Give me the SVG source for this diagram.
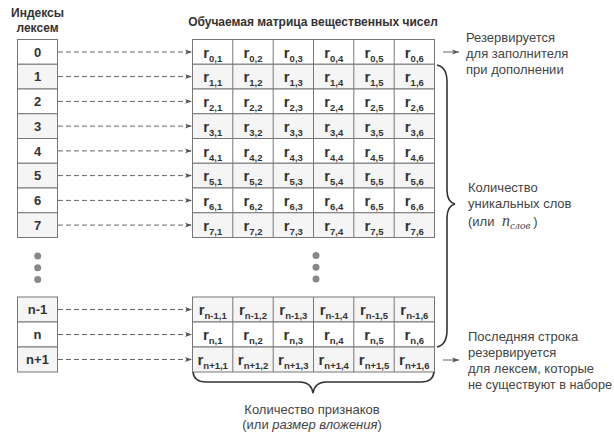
<svg xmlns="http://www.w3.org/2000/svg" width="614" height="436" viewBox="0 0 614 436">
<style>
.cell{fill:#fff;stroke:#777;stroke-width:1}
.cell.sh{fill:#f5f5f5}
.idx{font-family:"Liberation Sans",Arial,sans-serif;font-weight:bold;font-size:13px;fill:#333;text-anchor:middle}
.r{font-family:"Liberation Sans",Arial,sans-serif;font-weight:bold;font-size:15px;fill:#333;text-anchor:middle}
.sub{font-size:9.5px}
.hdr{font-family:"Liberation Sans",Arial,sans-serif;font-weight:bold;font-size:12px;fill:#333}
.note{font-family:"Liberation Sans",Arial,sans-serif;font-size:13px;fill:#444}
.dash{stroke:#666;stroke-width:1;stroke-dasharray:5,3;fill:none}
.solid{stroke:#666;stroke-width:1;fill:none}
.brace{stroke:#333;stroke-width:1.6;fill:none}
.dot{fill:#888}
</style>
<defs>
<marker id="ah" viewBox="0 0 10 10" refX="10" refY="5" markerWidth="7" markerHeight="7" orient="auto" markerUnits="userSpaceOnUse">
<path d="M0,1.5 L10,5 L0,8.5 L2.5,5 Z" fill="#555"/>
</marker>
</defs>

<text class="hdr" x="37.5" y="17" text-anchor="middle" font-size="13">Индексы</text>
<text class="hdr" x="37.5" y="32" text-anchor="middle" font-size="13">лексем</text>
<text class="hdr" x="313" y="26" text-anchor="middle">Обучаемая матрица вещественных чисел</text>

<g id="index">
<g id="i0"><rect class="cell" x="17.5" y="39.5" width="40" height="24.75"/><text class="idx" x="37.5" y="56.5">0</text></g>
<g id="i1"><rect class="cell sh" x="17.5" y="64.25" width="40" height="24.75"/><text class="idx" x="37.5" y="81.2">1</text></g>
<g id="i2"><rect class="cell" x="17.5" y="89" width="40" height="24.75"/><text class="idx" x="37.5" y="106">2</text></g>
<g id="i3"><rect class="cell sh" x="17.5" y="113.75" width="40" height="24.75"/><text class="idx" x="37.5" y="130.7">3</text></g>
<g id="i4"><rect class="cell" x="17.5" y="138.5" width="40" height="24.75"/><text class="idx" x="37.5" y="155.5">4</text></g>
<g id="i5"><rect class="cell sh" x="17.5" y="163.25" width="40" height="24.75"/><text class="idx" x="37.5" y="180.2">5</text></g>
<g id="i6"><rect class="cell" x="17.5" y="188" width="40" height="24.75"/><text class="idx" x="37.5" y="205">6</text></g>
<g id="i7"><rect class="cell sh" x="17.5" y="212.75" width="40" height="24.75"/><text class="idx" x="37.5" y="229.7">7</text></g>
<g id="in1"><rect class="cell sh" x="17.5" y="297" width="40" height="25"/><text class="idx" x="37.5" y="314">n-1</text></g>
<g id="in"><rect class="cell" x="17.5" y="322" width="40" height="25"/><text class="idx" x="37.5" y="339">n</text></g>
<g id="inp1"><rect class="cell sh" x="17.5" y="347" width="40" height="25"/><text class="idx" x="37.5" y="364">n+1</text></g>
<circle class="dot" cx="37.7" cy="256" r="3.5"/>
<circle class="dot" cx="37.7" cy="267.7" r="3.5"/>
<circle class="dot" cx="37.7" cy="279.4" r="3.5"/>
</g>

<g id="matrix">
<g id="row0">
<rect class="cell" x="192.5" y="39.5" width="242" height="24.75"/>
<text class="r" x="212.7" y="57.5">r<tspan class="sub" dy="4">0,1</tspan></text>
<text class="r" x="253" y="57.5">r<tspan class="sub" dy="4">0,2</tspan></text>
<text class="r" x="293.3" y="57.5">r<tspan class="sub" dy="4">0,3</tspan></text>
<text class="r" x="333.7" y="57.5">r<tspan class="sub" dy="4">0,4</tspan></text>
<text class="r" x="374" y="57.5">r<tspan class="sub" dy="4">0,5</tspan></text>
<text class="r" x="414.3" y="57.5">r<tspan class="sub" dy="4">0,6</tspan></text>
</g>
<g id="row1">
<rect class="cell sh" x="192.5" y="64.25" width="242" height="24.75"/>
<text class="r" x="212.7" y="82.2">r<tspan class="sub" dy="4">1,1</tspan></text>
<text class="r" x="253" y="82.2">r<tspan class="sub" dy="4">1,2</tspan></text>
<text class="r" x="293.3" y="82.2">r<tspan class="sub" dy="4">1,3</tspan></text>
<text class="r" x="333.7" y="82.2">r<tspan class="sub" dy="4">1,4</tspan></text>
<text class="r" x="374" y="82.2">r<tspan class="sub" dy="4">1,5</tspan></text>
<text class="r" x="414.3" y="82.2">r<tspan class="sub" dy="4">1,6</tspan></text>
</g>
<g id="row2">
<rect class="cell" x="192.5" y="89" width="242" height="24.75"/>
<text class="r" x="212.7" y="107">r<tspan class="sub" dy="4">2,1</tspan></text>
<text class="r" x="253" y="107">r<tspan class="sub" dy="4">2,2</tspan></text>
<text class="r" x="293.3" y="107">r<tspan class="sub" dy="4">2,3</tspan></text>
<text class="r" x="333.7" y="107">r<tspan class="sub" dy="4">2,4</tspan></text>
<text class="r" x="374" y="107">r<tspan class="sub" dy="4">2,5</tspan></text>
<text class="r" x="414.3" y="107">r<tspan class="sub" dy="4">2,6</tspan></text>
</g>
<g id="row3">
<rect class="cell sh" x="192.5" y="113.75" width="242" height="24.75"/>
<text class="r" x="212.7" y="131.7">r<tspan class="sub" dy="4">3,1</tspan></text>
<text class="r" x="253" y="131.7">r<tspan class="sub" dy="4">3,2</tspan></text>
<text class="r" x="293.3" y="131.7">r<tspan class="sub" dy="4">3,3</tspan></text>
<text class="r" x="333.7" y="131.7">r<tspan class="sub" dy="4">3,4</tspan></text>
<text class="r" x="374" y="131.7">r<tspan class="sub" dy="4">3,5</tspan></text>
<text class="r" x="414.3" y="131.7">r<tspan class="sub" dy="4">3,6</tspan></text>
</g>
<g id="row4">
<rect class="cell" x="192.5" y="138.5" width="242" height="24.75"/>
<text class="r" x="212.7" y="156.5">r<tspan class="sub" dy="4">4,1</tspan></text>
<text class="r" x="253" y="156.5">r<tspan class="sub" dy="4">4,2</tspan></text>
<text class="r" x="293.3" y="156.5">r<tspan class="sub" dy="4">4,3</tspan></text>
<text class="r" x="333.7" y="156.5">r<tspan class="sub" dy="4">4,4</tspan></text>
<text class="r" x="374" y="156.5">r<tspan class="sub" dy="4">4,5</tspan></text>
<text class="r" x="414.3" y="156.5">r<tspan class="sub" dy="4">4,6</tspan></text>
</g>
<g id="row5">
<rect class="cell sh" x="192.5" y="163.25" width="242" height="24.75"/>
<text class="r" x="212.7" y="181.2">r<tspan class="sub" dy="4">5,1</tspan></text>
<text class="r" x="253" y="181.2">r<tspan class="sub" dy="4">5,2</tspan></text>
<text class="r" x="293.3" y="181.2">r<tspan class="sub" dy="4">5,3</tspan></text>
<text class="r" x="333.7" y="181.2">r<tspan class="sub" dy="4">5,4</tspan></text>
<text class="r" x="374" y="181.2">r<tspan class="sub" dy="4">5,5</tspan></text>
<text class="r" x="414.3" y="181.2">r<tspan class="sub" dy="4">5,6</tspan></text>
</g>
<g id="row6">
<rect class="cell" x="192.5" y="188" width="242" height="24.75"/>
<text class="r" x="212.7" y="206">r<tspan class="sub" dy="4">6,1</tspan></text>
<text class="r" x="253" y="206">r<tspan class="sub" dy="4">6,2</tspan></text>
<text class="r" x="293.3" y="206">r<tspan class="sub" dy="4">6,3</tspan></text>
<text class="r" x="333.7" y="206">r<tspan class="sub" dy="4">6,4</tspan></text>
<text class="r" x="374" y="206">r<tspan class="sub" dy="4">6,5</tspan></text>
<text class="r" x="414.3" y="206">r<tspan class="sub" dy="4">6,6</tspan></text>
</g>
<g id="row7">
<rect class="cell sh" x="192.5" y="212.75" width="242" height="24.75"/>
<text class="r" x="212.7" y="230.7">r<tspan class="sub" dy="4">7,1</tspan></text>
<text class="r" x="253" y="230.7">r<tspan class="sub" dy="4">7,2</tspan></text>
<text class="r" x="293.3" y="230.7">r<tspan class="sub" dy="4">7,3</tspan></text>
<text class="r" x="333.7" y="230.7">r<tspan class="sub" dy="4">7,4</tspan></text>
<text class="r" x="374" y="230.7">r<tspan class="sub" dy="4">7,5</tspan></text>
<text class="r" x="414.3" y="230.7">r<tspan class="sub" dy="4">7,6</tspan></text>
</g>
<g id="rown1">
<rect class="cell sh" x="192.5" y="297" width="242" height="25"/>
<text class="r" x="212.7" y="315">r<tspan class="sub" dy="4">n-1,1</tspan></text>
<text class="r" x="253" y="315">r<tspan class="sub" dy="4">n-1,2</tspan></text>
<text class="r" x="293.3" y="315">r<tspan class="sub" dy="4">n-1,3</tspan></text>
<text class="r" x="333.7" y="315">r<tspan class="sub" dy="4">n-1,4</tspan></text>
<text class="r" x="374" y="315">r<tspan class="sub" dy="4">n-1,5</tspan></text>
<text class="r" x="414.3" y="315">r<tspan class="sub" dy="4">n-1,6</tspan></text>
</g>
<g id="rown">
<rect class="cell" x="192.5" y="322" width="242" height="25"/>
<text class="r" x="212.7" y="340">r<tspan class="sub" dy="4">n,1</tspan></text>
<text class="r" x="253" y="340">r<tspan class="sub" dy="4">n,2</tspan></text>
<text class="r" x="293.3" y="340">r<tspan class="sub" dy="4">n,3</tspan></text>
<text class="r" x="333.7" y="340">r<tspan class="sub" dy="4">n,4</tspan></text>
<text class="r" x="374" y="340">r<tspan class="sub" dy="4">n,5</tspan></text>
<text class="r" x="414.3" y="340">r<tspan class="sub" dy="4">n,6</tspan></text>
</g>
<g id="rownp1">
<rect class="cell sh" x="192.5" y="347" width="242" height="25"/>
<text class="r" x="212.7" y="365">r<tspan class="sub" dy="4">n+1,1</tspan></text>
<text class="r" x="253" y="365">r<tspan class="sub" dy="4">n+1,2</tspan></text>
<text class="r" x="293.3" y="365">r<tspan class="sub" dy="4">n+1,3</tspan></text>
<text class="r" x="333.7" y="365">r<tspan class="sub" dy="4">n+1,4</tspan></text>
<text class="r" x="374" y="365">r<tspan class="sub" dy="4">n+1,5</tspan></text>
<text class="r" x="414.3" y="365">r<tspan class="sub" dy="4">n+1,6</tspan></text>
</g>
<g id="colLines" stroke="#777" stroke-width="1">
<path d="M232.8,39.5V237.5M273.2,39.5V237.5M313.5,39.5V237.5M353.8,39.5V237.5M394.2,39.5V237.5"/>
<path d="M232.8,297V372M273.2,297V372M313.5,297V372M353.8,297V372M394.2,297V372"/>
</g>
<circle class="dot" cx="316" cy="255.5" r="3.5"/>
<circle class="dot" cx="316" cy="267.3" r="3.5"/>
<circle class="dot" cx="316" cy="279" r="3.5"/>
</g>

<g id="notes">
<text class="note" x="466" y="42">Резервируется</text>
<text class="note" x="466" y="58">для заполнителя</text>
<text class="note" x="466" y="74">при дополнении</text>
<text class="note" x="468" y="192">Количество</text>
<text class="note" x="468" y="208">уникальных слов</text>
<text class="note" x="468" y="226">(или <tspan font-family="'Liberation Serif',serif" font-style="italic" font-size="16" dx="4">n</tspan><tspan font-family="'Liberation Serif',serif" font-style="italic" font-size="11" dy="3">слов</tspan><tspan dy="-3" dx="3">)</tspan></text>
<text class="note" x="468" y="341">Последняя строка</text>
<text class="note" x="468" y="357">резервируется</text>
<text class="note" x="468" y="373">для лексем, которые</text>
<text class="note" x="468" y="389" textLength="144" lengthAdjust="spacingAndGlyphs">не существуют в наборе</text>
<text class="note" x="312" y="414" text-anchor="middle">Количество признаков</text>
<text class="note" x="312" y="429" text-anchor="middle">(или <tspan font-style="italic">размер вложения</tspan>)</text>
</g>

<g id="connectors">
<path class="dash" d="M58,52H192" marker-end="url(#ah)"/>
<path class="dash" d="M58,76.6H192" marker-end="url(#ah)"/>
<path class="dash" d="M58,101.4H192" marker-end="url(#ah)"/>
<path class="dash" d="M58,126.1H192" marker-end="url(#ah)"/>
<path class="dash" d="M58,150.9H192" marker-end="url(#ah)"/>
<path class="dash" d="M58,175.6H192" marker-end="url(#ah)"/>
<path class="dash" d="M58,200.4H192" marker-end="url(#ah)"/>
<path class="dash" d="M58,225.1H192" marker-end="url(#ah)"/>
<path class="dash" d="M58,309.5H192" marker-end="url(#ah)"/>
<path class="dash" d="M58,334.5H192" marker-end="url(#ah)"/>
<path class="dash" d="M58,359.5H192" marker-end="url(#ah)"/>
<path class="solid" d="M443,52H459" marker-end="url(#ah)"/>
<path class="solid" d="M443,360H459" marker-end="url(#ah)"/>
<path class="brace" d="M437,65 Q447,67 447,82 V190 Q447,202 455,204 Q447,206 447,218 V330 Q447,345 437,347"/>
<path class="brace" d="M193,372 Q194,382 206,382 H300 Q311,382 313,393 Q315,382 326,382 H421 Q433,382 434,372"/>
</g>
</svg>
